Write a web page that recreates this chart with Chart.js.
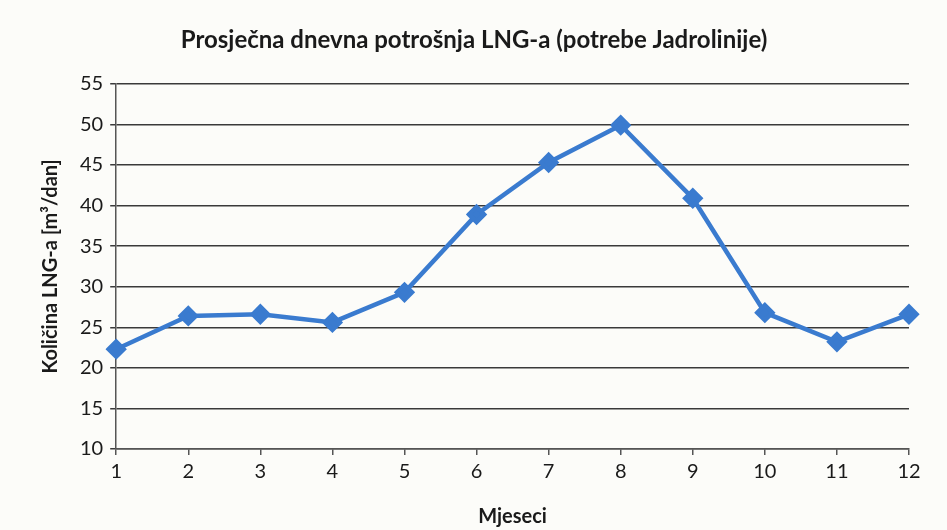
<!DOCTYPE html>
<html>
<head>
<meta charset="utf-8">
<script src="https://cdn.jsdelivr.net/npm/chart.js@4"></script>
<style>
  html, body { margin: 0; padding: 0; background: #fcfcf9; }
  #wrap { position: relative; width: 947px; height: 530px; }
  canvas { display: block; }
</style>
</head>
<body>
<div id="wrap"><canvas id="c" width="947" height="530"></canvas></div>
<script>
const months = ['1','2','3','4','5','6','7','8','9','10','11','12'];
const consumption = [22.3, 26.4, 26.6, 25.6, 29.3, 38.9, 45.3, 49.9, 40.9, 26.8, 23.2, 26.6];
const chartTitle = 'Prosječna dnevna potrošnja LNG-a (potrebe Jadrolinije)';
const xTitle = 'Mjeseci';
const yTitle = 'Količina LNG-a [m³/dan]';

const FONT = "Lato, 'Open Sans', sans-serif";
const blue = '#3a7bcf';

new Chart(document.getElementById('c'), {
  type: 'line',
  data: {
    labels: months,
    datasets: [{
      data: consumption,
      borderColor: blue,
      backgroundColor: blue,
      borderWidth: 4.5,
      pointStyle: 'rectRot',
      pointRadius: 7.5,
      pointHoverRadius: 7.5,
      tension: 0
    }]
  },
  options: {
    responsive: false,
    animation: false,
    layout: { padding: { left: 39, right: 38, top: 16, bottom: 1 } },
    plugins: {
      legend: { display: false },
      tooltip: { enabled: false },
      title: {
        display: true,
        text: chartTitle,
        color: '#1a1a1a',
        font: { family: FONT, size: 24, weight: 'bold' },
        padding: { top: 10, bottom: 29 }
      }
    },
    scales: {
      x: {
        offset: false,
        grid: { display: true, drawOnChartArea: false, drawTicks: true, tickLength: 6, color: '#555', lineWidth: 1.5 },
        border: { display: true, color: '#555', width: 1.5 },
        ticks: { color: '#1a1a1a', font: { family: FONT, size: 20 }, padding: 5, maxRotation: 0 },
        title: { display: true, text: xTitle, color: '#1a1a1a', font: { family: FONT, size: 20, weight: 'bold' }, padding: { top: 16, bottom: 0 } }
      },
      y: {
        min: 10, max: 55,
        ticks: { stepSize: 5, color: '#1a1a1a', font: { family: FONT, size: 20 }, padding: 7 },
        grid: { color: '#3a3a3a', lineWidth: 1.5, drawTicks: true, tickLength: 6 },
        border: { display: true, color: '#555', width: 1.5 },
        title: { display: true, text: yTitle, color: '#1a1a1a', font: { family: FONT, size: 20, weight: 'bold' }, padding: { top: 0, bottom: 10 } }
      }
    }
  }
});
</script>
</body>
</html>
